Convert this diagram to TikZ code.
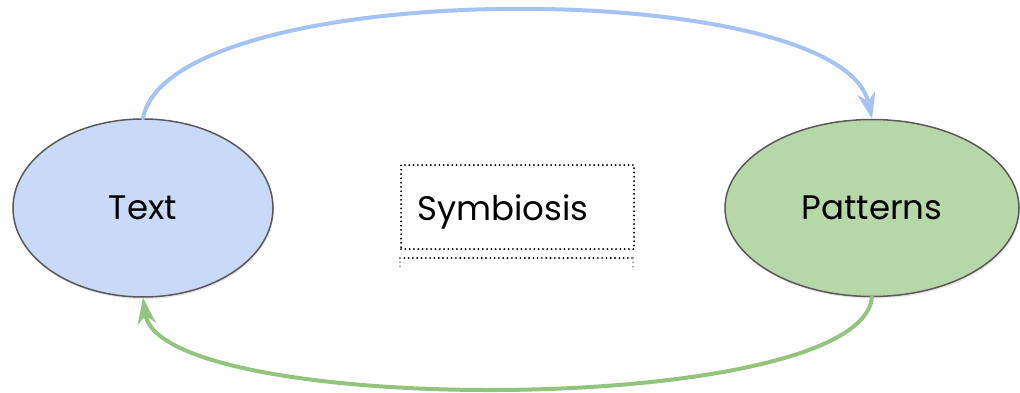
\documentclass[tikz,border=0pt]{standalone}
\usepackage{fontspec}
\setmainfont{Poppins}
\usetikzlibrary{arrows.meta,shadows,shapes.geometric}
\definecolor{tblue}{HTML}{C9DAF8}
\definecolor{tgreen}{HTML}{B6D7A8}
\definecolor{ablue}{HTML}{A4C2F4}
\definecolor{agreen}{HTML}{93C47D}
\definecolor{edge}{HTML}{595959}
\tikzset{
  blob/.style={ellipse, draw=edge, line width=1.5pt, inner sep=0pt,
    drop shadow={shadow xshift=1pt, shadow yshift=-2pt, opacity=0.25, fill=black!40},
    font=\fontsize{34}{38}\selectfont},
  link/.style={line width=4pt, line cap=round, -{Stealth[length=26pt,width=18pt,inset=8pt]}},
  dotline/.style={line width=2.1pt, line cap=round, dash pattern=on 0pt off 4.3pt},
  dotbox/.style={draw, dotline}
}
\begin{document}
\begin{tikzpicture}[x=1pt,y=-1pt]
\useasboundingbox (0,0) rectangle (1020,393);
\node[blob, fill=tblue, minimum width=260pt, minimum height=178pt] (text) at (143,208) {Text};
\node[blob, fill=tgreen, minimum width=294pt, minimum height=177pt] (pat) at (872,208) {Patterns};
\node[dotbox, minimum width=233pt, minimum height=84pt, anchor=north west, text width=201pt, align=left, inner xsep=16pt, text height=30pt, text depth=4pt, font=\fontsize{34}{38}\selectfont] (sym) at (400,164) {Symbiosis};
\coordinate (b2l) at (400,258);
\coordinate (b2r) at (633,258);
\draw[dotline] (b2l) -- (b2r);
\draw[dotline, black!40] (b2l) -- ++(0,12);
\draw[dotline, black!40] (b2r) -- ++(0,12);
\draw[link, ablue] (text.north) .. controls (170,-25) and (840,-25) .. (pat.north);
\draw[link, agreen] (pat.south) .. controls (860,418) and (160,418) .. (text.south);
\end{tikzpicture}
\end{document}
